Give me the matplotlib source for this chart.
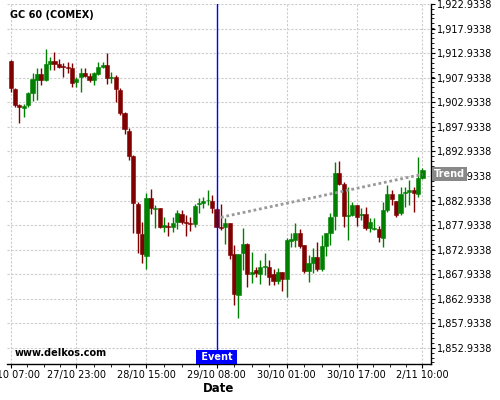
import matplotlib
matplotlib.use("Agg")
from matplotlib import pyplot as plt
from matplotlib import transforms
from matplotlib.ticker import FixedLocator, FuncFormatter, MultipleLocator
import numpy as np

# hourly candles, GC 60 (COMEX)
opens = [1911.34, 1905.64, 1902.38, 1901.83, 1902.38, 1904.88, 1907.47, 1908.69, 1907.47, 1910.72,
         1911.34, 1910.72, 1910.17, 1910.05, 1909.85, 1907.12, 1908.02, 1908.83, 1908.34, 1907.47,
         1908.69, 1910.17, 1910.52, 1907.81, 1908.02, 1905.43, 1900.69, 1897.15, 1892.00, 1882.23,
         1876.13, 1871.65, 1883.40, 1881.30, 1881.36, 1877.49, 1877.76, 1877.61, 1878.63, 1880.14,
         1878.63, 1878.43, 1878.16, 1882.17, 1882.50, 1882.95, 1882.90, 1881.22, 1877.61, 1877.49,
         1878.31, 1872.00, 1863.72, 1872.32, 1874.10, 1867.99, 1868.80, 1867.99, 1869.47, 1869.47,
         1867.99, 1866.62, 1868.46, 1866.91, 1874.77, 1874.91, 1876.27, 1873.83, 1868.66, 1870.17,
         1871.39, 1869.00, 1873.69, 1876.27, 1879.85, 1888.60, 1886.30, 1879.79, 1880.00, 1882.03,
         1879.95, 1880.20, 1877.29, 1877.09, 1877.09, 1875.25, 1881.01, 1884.27, 1882.84, 1880.34,
         1884.41, 1884.74, 1885.08, 1884.27, 1887.46]
highs = [1911.50, 1905.90, 1902.52, 1902.52, 1905.09, 1908.83, 1909.85, 1909.85, 1913.72, 1912.21,
         1913.23, 1911.68, 1910.87, 1911.13, 1910.87, 1908.14, 1909.85, 1909.85, 1908.83, 1909.16,
         1911.19, 1911.19, 1912.90, 1909.16, 1908.49, 1905.78, 1901.02, 1897.64, 1892.21, 1882.70,
         1878.63, 1884.41, 1885.23, 1882.03, 1881.50, 1879.65, 1878.63, 1879.53, 1881.01, 1881.01,
         1880.00, 1879.65, 1882.17, 1883.40, 1883.72, 1885.08, 1884.07, 1881.40, 1882.17, 1879.38,
         1878.40, 1873.89, 1872.10, 1877.29, 1874.20, 1872.52, 1869.47, 1870.84, 1872.20, 1870.84,
         1868.94, 1869.15, 1868.50, 1875.25, 1876.27, 1878.31, 1877.09, 1873.90, 1871.86, 1873.22,
         1874.44, 1875.93, 1876.30, 1880.46, 1890.84, 1890.98, 1886.77, 1885.76, 1882.70, 1882.10,
         1881.36, 1881.69, 1879.32, 1879.32, 1877.76, 1882.70, 1886.10, 1885.08, 1882.90, 1885.76,
         1885.76, 1887.12, 1885.76, 1891.86, 1889.50]
lows = [1904.97, 1902.03, 1898.72, 1899.88, 1902.03, 1903.26, 1903.40, 1906.45, 1907.32, 1909.50,
        1909.50, 1909.85, 1908.14, 1908.83, 1906.10, 1906.10, 1905.09, 1908.14, 1907.12, 1906.45,
        1908.49, 1910.00, 1906.65, 1906.92, 1903.05, 1900.35, 1896.48, 1891.19, 1876.27, 1872.32,
        1870.17, 1868.94, 1880.14, 1877.29, 1877.29, 1876.55, 1875.72, 1876.48, 1877.09, 1878.16,
        1875.72, 1876.74, 1877.61, 1880.34, 1881.36, 1882.03, 1880.34, 1877.50, 1876.94, 1874.10,
        1870.98, 1861.68, 1858.97, 1868.80, 1865.40, 1866.10, 1867.44, 1865.89, 1867.79, 1865.75,
        1865.75, 1865.95, 1864.59, 1863.25, 1873.54, 1873.54, 1873.22, 1868.13, 1866.42, 1868.13,
        1868.66, 1868.66, 1871.65, 1873.89, 1876.94, 1886.20, 1877.49, 1874.91, 1879.79, 1877.76,
        1878.98, 1876.94, 1876.60, 1876.94, 1874.56, 1873.42, 1880.67, 1882.03, 1879.53, 1880.00,
        1881.69, 1882.03, 1880.67, 1883.72, 1887.40]
closes = [1905.90, 1902.38, 1902.03, 1902.18, 1904.88, 1907.67, 1908.69, 1907.47, 1910.72, 1911.34,
          1910.72, 1910.17, 1910.05, 1909.95, 1906.76, 1907.67, 1908.83, 1908.34, 1907.47, 1908.83,
          1910.17, 1910.52, 1907.81, 1908.02, 1905.58, 1900.81, 1897.43, 1892.06, 1882.38, 1876.40,
          1872.00, 1883.40, 1881.36, 1881.40, 1877.49, 1877.96, 1877.49, 1878.31, 1880.34, 1878.63,
          1878.31, 1878.16, 1881.83, 1882.50, 1882.90, 1883.05, 1881.48, 1877.61, 1877.41, 1878.31,
          1871.86, 1863.86, 1872.00, 1874.10, 1867.99, 1868.46, 1868.25, 1869.47, 1869.68, 1867.32,
          1866.62, 1868.46, 1866.91, 1874.91, 1875.05, 1876.27, 1873.69, 1868.66, 1870.17, 1871.39,
          1869.00, 1873.69, 1876.27, 1879.53, 1888.60, 1886.30, 1879.85, 1880.00, 1882.03, 1879.65,
          1880.10, 1877.41, 1878.63, 1877.29, 1875.46, 1881.01, 1884.27, 1883.19, 1880.00, 1884.27,
          1884.74, 1885.08, 1884.41, 1887.46, 1889.15]

tick_labels = ["27/10 07:00", "27/10 23:00", "28/10 15:00", "29/10 08:00",
               "30/10 01:00", "30/10 17:00", "2/11 10:00"]
tick_bars = [0, 15, 31, 47, 63, 79, 94]

event_bar = 47
trend_bars = [48, 94]
trend_values = [1879.53, 1888.28]

y_ticks = [1852.9338 + 5 * k for k in range(15)]

fig = plt.figure(figsize=(5, 4), dpi=100)
ax = fig.add_axes([0.0134, 0.09, 0.8486, 0.90])

o = np.array(opens); h = np.array(highs); l = np.array(lows); c = np.array(closes)
x = np.arange(len(o))
up = c >= o
cols = np.where(up, '#008000', '#800000')

ax.vlines(x, l, h, colors=cols, lw=1, zorder=3)
bottoms = np.minimum(o, c)
heights = np.maximum(np.abs(c - o), 0.2)
ax.bar(x, heights, bottom=bottoms, width=0.95, color=cols, edgecolor=cols,
       linewidth=0.4, zorder=4)

ax.plot(trend_bars, trend_values, linestyle=(0, (1, 1)), color='#999999', lw=2.0, zorder=5)
ax.axvline(event_bar, color='#0000ff', lw=1, zorder=6)

ax.set_xlim(-0.9, 95.95)
ax.set_ylim(1849.68, 1922.9338)

ax.yaxis.tick_right()
ax.yaxis.set_major_locator(FixedLocator(y_ticks))
ax.yaxis.set_minor_locator(MultipleLocator(1))
ax.yaxis.set_major_formatter(FuncFormatter(lambda v, p: "{:,.4f}".format(v)))

minor_x = []
for a, b in zip(tick_bars[:-1], tick_bars[1:]):
    minor_x += [a + (b - a) * j / 4 for j in (1, 2, 3)]
ax.set_xticks(tick_bars)
ax.set_xticklabels(tick_labels)
ax.xaxis.set_minor_locator(FixedLocator(minor_x))

ax.tick_params(axis='both', which='major', labelsize=7, length=3, pad=1.5, width=0.8)
ax.tick_params(axis='both', which='minor', length=1.8, width=0.6)
ax.tick_params(axis='y', which='major', pad=1)

for s in ('left', 'top'):
    ax.spines[s].set_visible(False)
ax.spines['bottom'].set_linewidth(1)
ax.spines['right'].set_linewidth(1)

ax.grid(True, which='major', color='#cccccc', linestyle=(0, (2, 1.5)), lw=0.8)
ax.set_axisbelow(True)

ax.set_xlabel('Date', fontsize=8.5, fontweight='bold', labelpad=1)

ax.text(0.008, 0.969, 'GC 60 (COMEX)', transform=ax.transAxes, fontsize=7,
        fontweight='bold', ha='left', va='center')
ax.text(0.0196, 0.031, 'www.delkos.com', transform=ax.transAxes, fontsize=7,
        fontweight='bold', ha='left', va='center')

bx = transforms.blended_transform_factory(ax.transData, ax.transAxes)
ax.annotate(' Event ', xy=(event_bar, 0), xycoords=bx, xytext=(0, 1.4),
            textcoords='offset points', ha='center', va='bottom', fontsize=7,
            fontweight='bold', color='white', zorder=7, annotation_clip=False,
            bbox=dict(boxstyle='square,pad=0.2', fc='#0000ff', ec='none'))

by = transforms.blended_transform_factory(ax.transAxes, ax.transData)
ax.annotate('Trend', xy=(1, trend_values[-1]), xycoords=by, xytext=(2.4, 0),
            textcoords='offset points', ha='left', va='center', fontsize=7,
            fontweight='bold', color='white', zorder=7, annotation_clip=False,
            bbox=dict(boxstyle='square,pad=0.2', fc='#888888', ec='none'))

fig.savefig('out.png', dpi=100)
